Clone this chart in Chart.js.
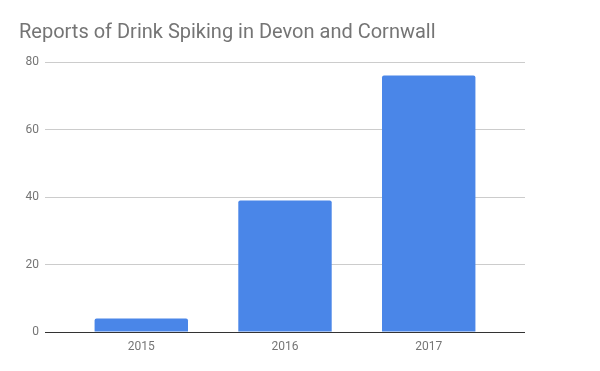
<!DOCTYPE html>
<html>
<head>
<meta charset="utf-8">
<script src="https://cdn.jsdelivr.net/npm/chart.js@4/dist/chart.umd.min.js"></script>
<style>
  html, body { margin: 0; padding: 0; background: #fff; }
  #wrap { width: 600px; height: 371px; }
</style>
</head>
<body>
<div id="wrap"><canvas id="chart"></canvas></div>
<script>
// Dữ liệu biểu đồ
const years = ['2015', '2016', '2017'];
const reports = [4, 39, 76];
const yTicks = [0, 20, 40, 60, 80];

const textColor = '#757575';

// Trục x dạng số để có khoảng trống hai bên như bản gốc
const points = reports.map((v, i) => ({ x: i, y: v }));

new Chart(document.getElementById('chart'), {
    type: 'bar',
    data: {
        datasets: [{
            data: points,
            backgroundColor: '#4a86e8',
            borderRadius: { topLeft: 2, topRight: 2 },
            borderSkipped: 'bottom',
            barPercentage: 0.65,
            categoryPercentage: 1
        }]
    },
    options: {
        responsive: true,
        maintainAspectRatio: false,
        animation: false,
        layout: { padding: { left: 19, right: 75, top: 0, bottom: 0 } },
        plugins: {
            legend: { display: false },
            tooltip: { enabled: false },
            title: {
                display: true,
                text: 'Reports of Drink Spiking in Devon and Cornwall',
                align: 'start',
                color: textColor,
                font: { family: 'Roboto', size: 20, weight: 'normal' },
                padding: { top: 21, bottom: 17 }
            }
        },
        scales: {
            x: {
                type: 'linear',
                offset: false,
                min: -0.67,
                max: 2.67,
                grid: { display: false, offset: false },
                border: { display: false },
                ticks: {
                    stepSize: 1,
                    includeBounds: false,
                    color: textColor,
                    font: { family: 'Roboto', size: 12 },
                    padding: 0,
                    callback: function(value) {
                        return years[value] !== undefined ? years[value] : '';
                    }
                },
                afterFit: function(scale) { scale.height = 39; }
            },
            y: {
                min: yTicks[0],
                max: yTicks[yTicks.length - 1],
                grid: {
                    drawTicks: false,
                    color: function(ctx) {
                        return ctx.tick && ctx.tick.value === 0 ? '#333333' : '#cccccc';
                    }
                },
                border: { display: false },
                afterBuildTicks: function(scale) {
                    scale.ticks = yTicks.map(v => ({ value: v }));
                },
                ticks: {
                    color: textColor,
                    font: { family: 'Roboto', size: 12 },
                    padding: 6
                },
                afterFit: function(scale) { scale.width = 26; }
            }
        }
    }
});
</script>
</body>
</html>
